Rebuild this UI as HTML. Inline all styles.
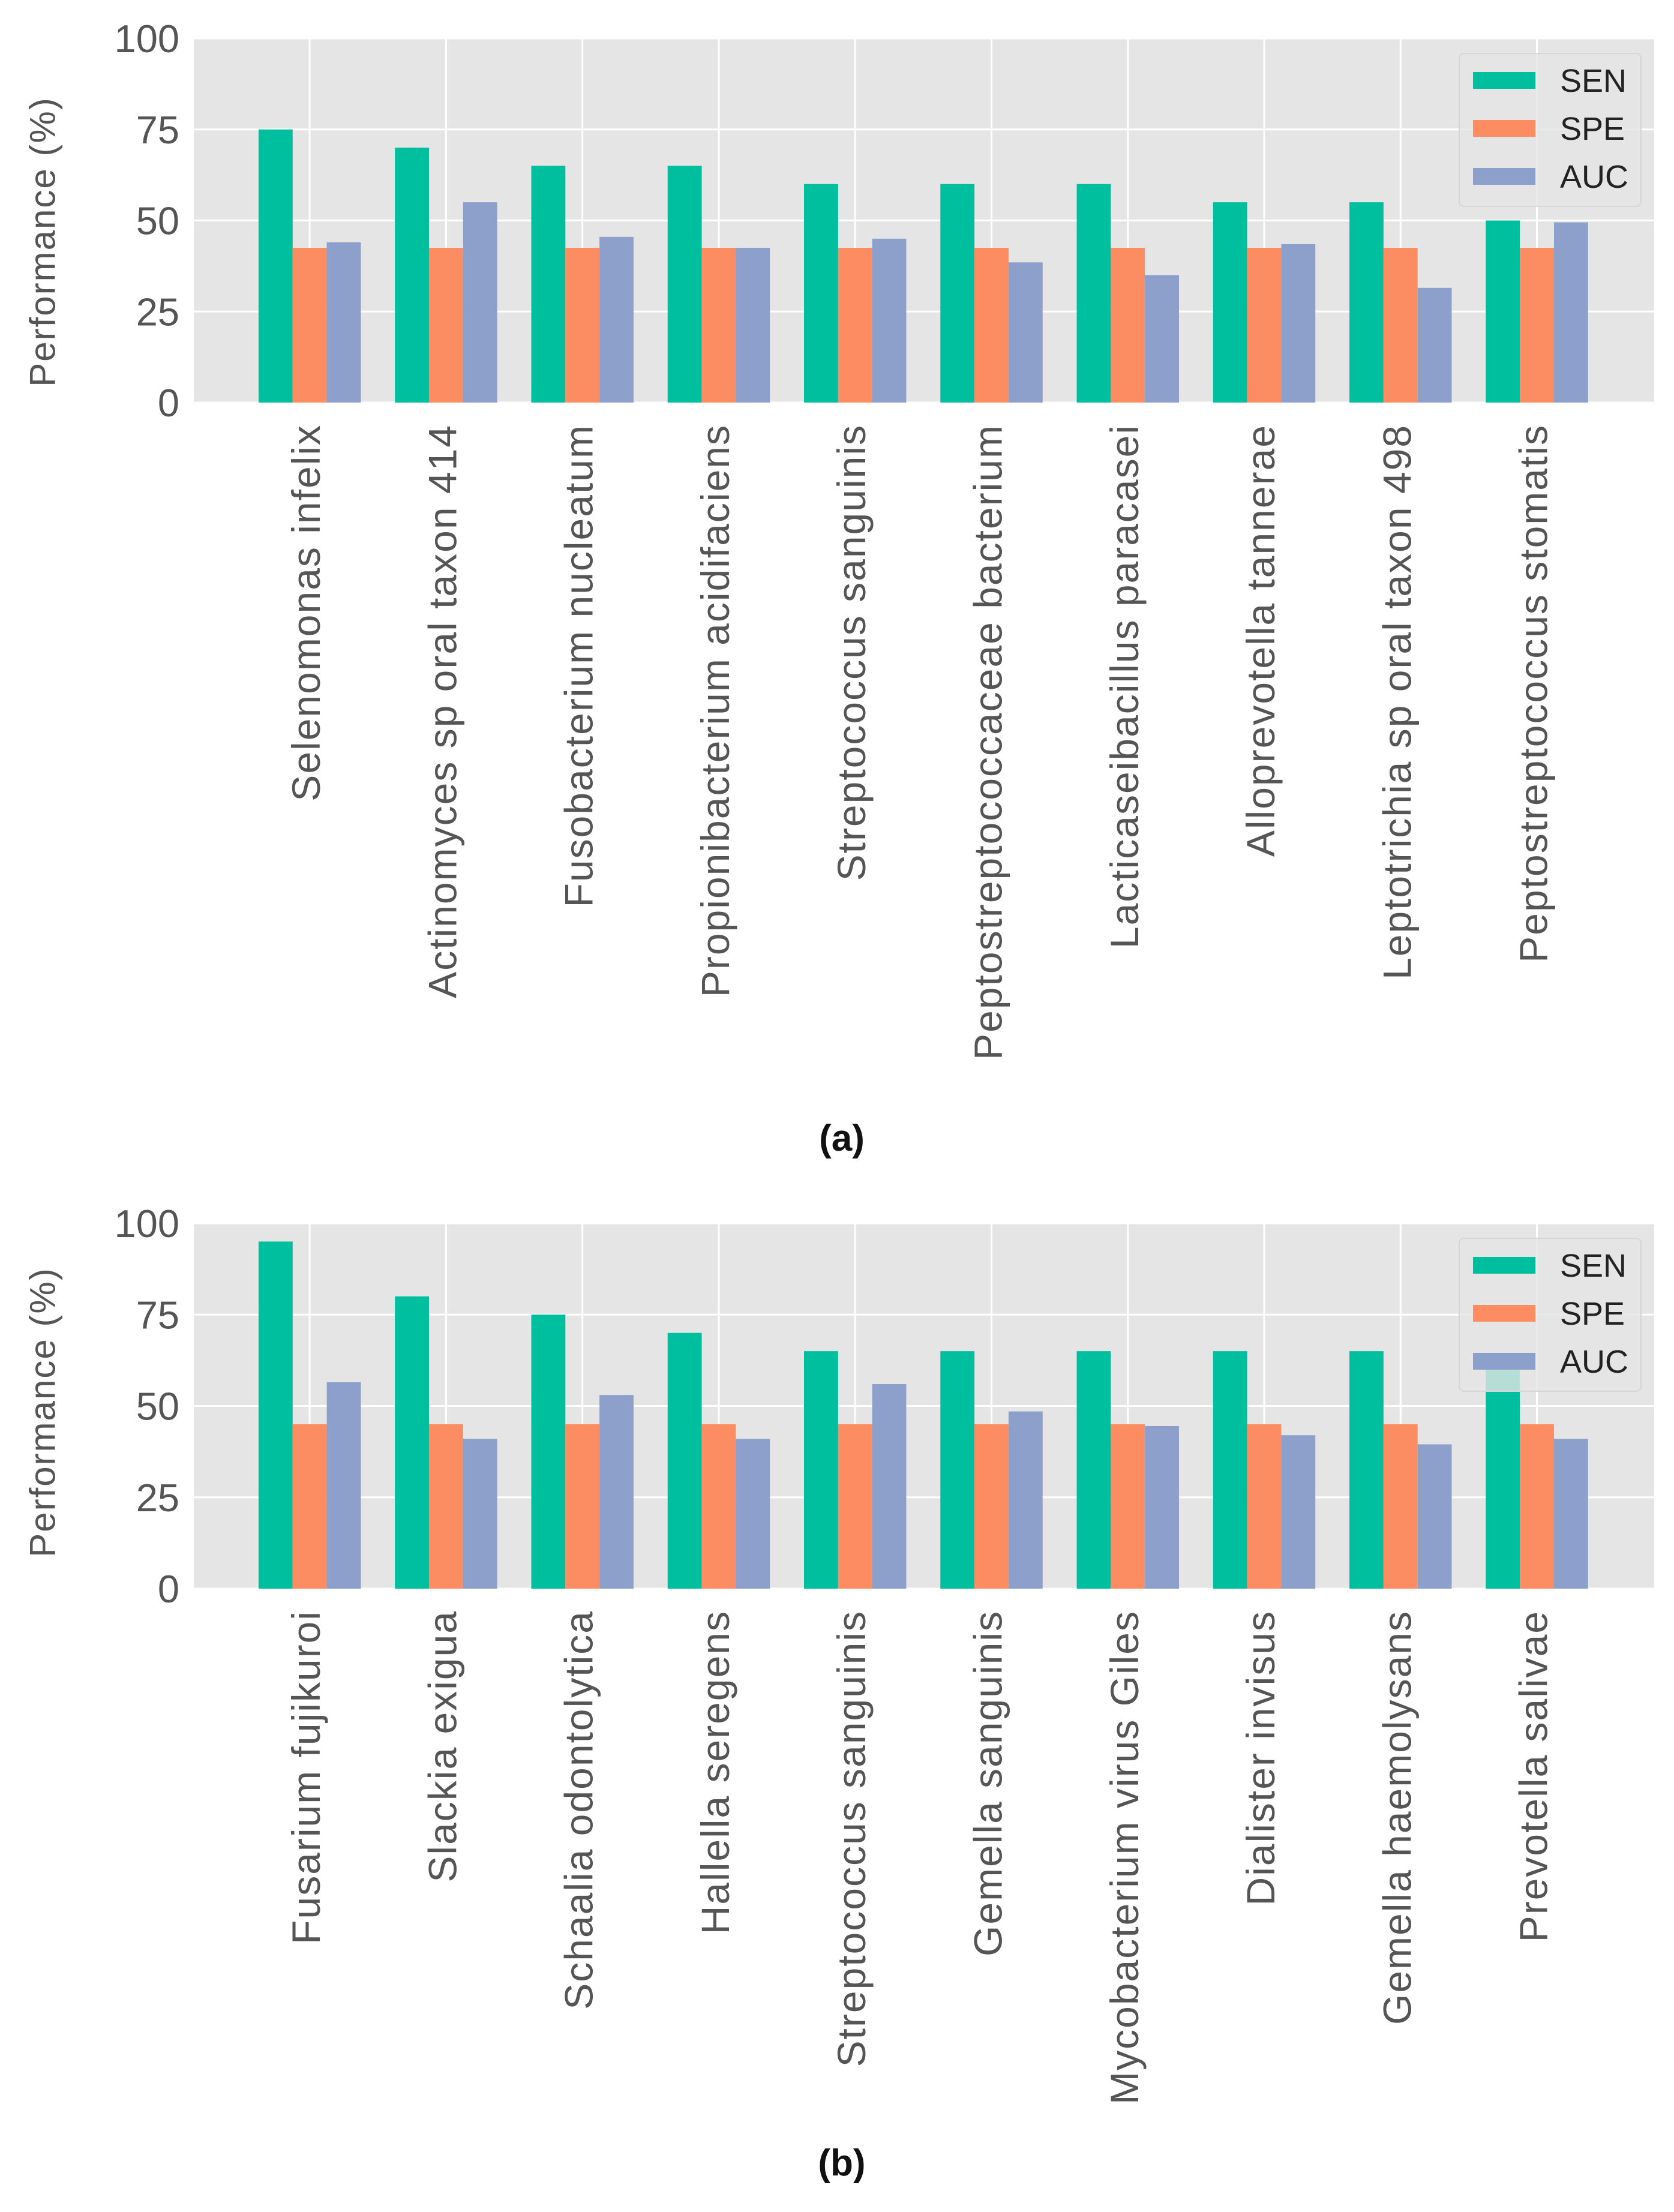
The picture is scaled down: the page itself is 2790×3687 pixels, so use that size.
<!DOCTYPE html>
<html><head><meta charset="utf-8">
<style>
html,body{margin:0;padding:0;background:#fff;}
svg{display:block;}
</style></head>
<body>
<svg id="fig" width="2790" height="3687" viewBox="0 0 2790 3687" xmlns="http://www.w3.org/2000/svg"></svg>
<script>
const seriesNames = ["SEN","SPE","AUC"];
const seriesColors = ["#00bf9f","#fc8d62","#8da0cb"];
const yTicks = [0,25,50,75,100];
const catsA = ["Selenomonas infelix","Actinomyces sp oral taxon 414","Fusobacterium nucleatum","Propionibacterium acidifaciens","Streptococcus sanguinis","Peptostreptococcaceae bacterium","Lacticaseibacillus paracasei","Alloprevotella tannerae","Leptotrichia sp oral taxon 498","Peptostreptococcus stomatis"];
const senA = [75,70,65,65,60,60,60,55,55,50];
const speA = [42.5,42.5,42.5,42.5,42.5,42.5,42.5,42.5,42.5,42.5];
const aucA = [44,55,45.5,42.5,45,38.5,35,43.5,31.5,49.5];
const catsB = ["Fusarium fujikuroi","Slackia exigua","Schaalia odontolytica","Hallella seregens","Streptococcus sanguinis","Gemella sanguinis","Mycobacterium virus Giles","Dialister invisus","Gemella haemolysans","Prevotella salivae"];
const senB = [95,80,75,70,65,65,65,65,65,60];
const speB = [45,45,45,45,45,45,45,45,45,45];
const aucB = [56.5,41,53,41,56,48.5,44.5,42,39.5,41];

const NS="http://www.w3.org/2000/svg";
const svg=document.getElementById('fig');
function mk(tag,attrs,parent){const e=document.createElementNS(NS,tag);for(const k in attrs)e.setAttribute(k,attrs[k]);(parent||svg).appendChild(e);return e;}

function drawPanel(id,top,bottom,cats,series,caption,capY,ylabY){
  const left=323,right=2757;
  const xmin=-0.85,xmax=9.86;
  const xs=v=>left+(v-xmin)/(xmax-xmin)*(right-left);
  const ys=v=>bottom-(v/100)*(bottom-top);
  const g=mk('g',{});
  
  
  const bg=mk('rect',{x:left,y:top,width:right-left,height:bottom-top,fill:'#e5e5e5'},g);
  
  
  yTicks.forEach(t=>{
    const l=mk('line',{x1:left,x2:right,y1:ys(t),y2:ys(t),stroke:'#fff','stroke-width':3},g);
    
    
    const tx=mk('text',{x:299,y:ys(t)+23,'text-anchor':'end','font-family':'"Liberation Sans",sans-serif','font-size':65,fill:'#555'},g);
    tx.textContent=t;
    
    
  });
  cats.forEach((c,i)=>{
    const l=mk('line',{x1:xs(i),x2:xs(i),y1:top,y2:bottom,stroke:'#fff','stroke-width':3},g);
    
    
  });
  const bw=0.25;
  series.forEach((vals,s)=>{
    vals.forEach((v,i)=>{
      const cx=i+(s-1)*bw;
      const r=mk('rect',{x:xs(cx-bw/2),y:ys(v),width:xs(cx+bw/2)-xs(cx-bw/2),height:ys(0)-ys(v),fill:seriesColors[s]},g);
      
      
    });
  });
  cats.forEach((c,i)=>{
    const x=xs(i)-6, y=bottom+36;
    const t=mk('text',{x:0,y:0,transform:`translate(${x},${y}) rotate(-90)`,'text-anchor':'end','dominant-baseline':'central','font-family':'"Liberation Sans",sans-serif','font-size':66,'letter-spacing':2,fill:'#555'},g);
    t.textContent=c;
    
    
  });
  const yl=mk('text',{x:0,y:0,transform:`translate(71,${ylabY}) rotate(-90)`,'text-anchor':'middle','dominant-baseline':'central','font-family':'"Liberation Sans",sans-serif','font-size':60,'letter-spacing':2,fill:'#555'},g);
  yl.textContent='Performance (%)';
  
  
  const lg=mk('g',{},g);
  
  
  mk('rect',{x:2432,y:top+25,width:303,height:255,rx:8,fill:'#e5e5e5','fill-opacity':0.8,stroke:'#d6d6d6','stroke-width':2},lg);
  seriesNames.forEach((n,s)=>{
    const ry=top+70+s*80;
    const e=mk('g',{},lg);
    
    
    mk('rect',{x:2455,y:ry-14,width:104,height:28,fill:seriesColors[s]},e);
    const t=mk('text',{x:2600,y:ry+19,'font-family':'"Liberation Sans",sans-serif','font-size':54,fill:'#222'},e);
    t.textContent=n;
  });
  const cp=mk('text',{x:1403,y:capY,'text-anchor':'middle','font-family':'"Liberation Sans",sans-serif','font-weight':'bold','font-size':62,fill:'#111'});
  cp.textContent=caption;
  
  
}
drawPanel('panel-a',64,671,catsA,[senA,speA,aucA],'(a)',1918,403);
drawPanel('panel-b',2039,2648,catsB,[senB,speB,aucB],'(b)',3626,2354);
</script>
</body></html>
